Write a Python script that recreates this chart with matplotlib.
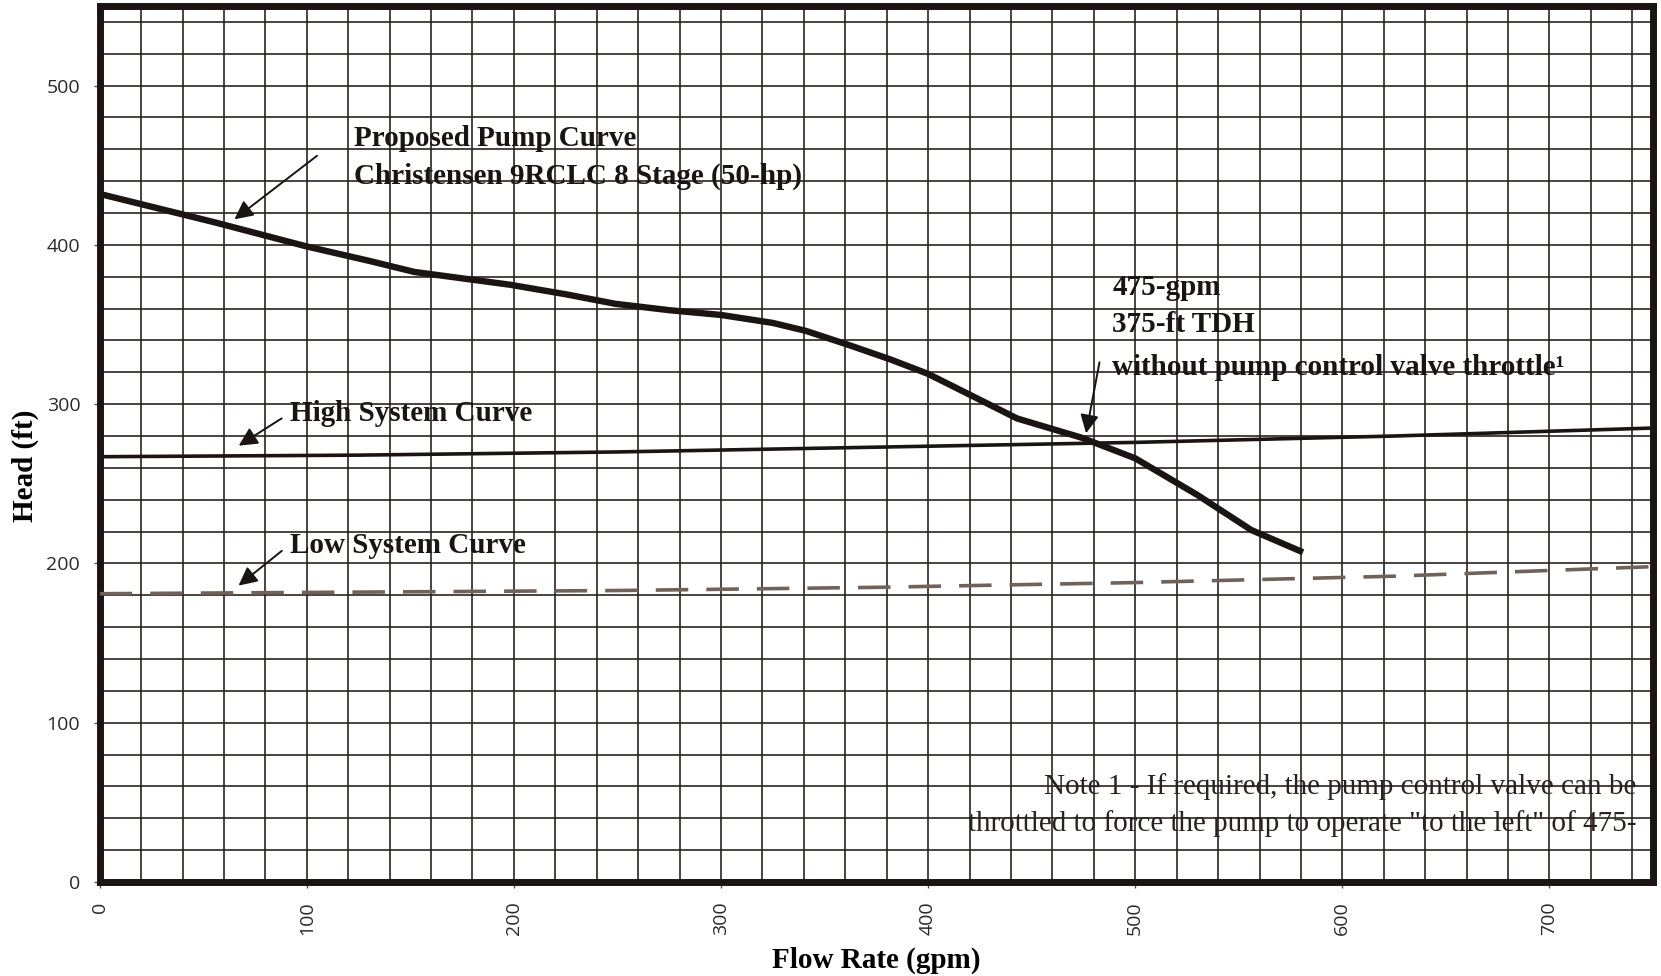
import numpy as np
import matplotlib.pyplot as plt
from matplotlib.ticker import MultipleLocator

# data
pump_flow = [0, 28, 56, 100, 130, 152, 175, 198, 225, 249, 275, 300, 325, 341, 362, 382, 400, 420, 443, 474, 500, 530, 556, 581]
pump_head = [432, 423, 414, 399, 390, 383, 379, 375, 369, 363, 359, 356, 351, 346, 337, 328, 319, 306, 291, 279, 266, 243, 221, 207]

high_flow = [0, 125, 250, 375, 500, 625, 750]
high_head = [267, 268, 270, 273, 276, 280, 285]

low_flow = [0, 125, 250, 375, 500, 625, 750]
low_head = [181, 182, 183, 185, 188, 192, 198]

x_ticks = [0, 100, 200, 300, 400, 500, 600, 700]
y_ticks = [0, 100, 200, 300, 400, 500]

serif = 'Liberation Serif'

fig = plt.figure(figsize=(16.61, 9.76), dpi=100)
ax = fig.add_axes([0.060, 0.0963, 0.9352, 0.8976])

ax.plot(pump_flow, pump_head, color='#1a1412', lw=4.6, solid_capstyle='butt', zorder=4)
ax.plot(high_flow, high_head, color='#1a1412', lw=2.6, zorder=4)
ax.plot(low_flow, low_head, color='#6e625a', lw=2.6, dashes=(9, 5), zorder=4)

ax.set_xlim(0, 750)
ax.set_ylim(0, 550)
ax.set_xticks(x_ticks)
ax.set_yticks(y_ticks)
ax.xaxis.set_minor_locator(MultipleLocator(20))
ax.yaxis.set_minor_locator(MultipleLocator(20))
ax.grid(which='both', color='#2a2220', lw=1.2)
ax.set_axisbelow(True)
ax.tick_params(which='minor', length=0)
ax.tick_params(which='major', length=4, width=1, color='#555555', pad=10, labelsize=14, labelcolor='#2a2a2a')
for lab in ax.get_xticklabels():
    lab.set_rotation(90)
    lab.set_family('Open Sans')
for lab in ax.get_yticklabels():
    lab.set_family('Open Sans')
for s in ax.spines.values():
    s.set_linewidth(5)
    s.set_color('#1a1412')

ax.set_xlabel('Flow Rate (gpm)', family=serif, fontweight='bold', fontsize=21, labelpad=8)
ax.set_ylabel('Head (ft)', family=serif, fontweight='bold', fontsize=21)
ax.yaxis.set_label_coords(-0.039, 0.475)

arrow = dict(arrowstyle='-|>', color='#1a1412', lw=1.4, mutation_scale=28)
bold = dict(family=serif, fontweight='bold', fontsize=21, color='#1a1412')

ax.annotate('', xy=(64, 415), xytext=(106, 457), arrowprops=arrow)
ax.text(123, 467, 'Proposed Pump Curve', va='center', **bold)
ax.text(123, 443, 'Christensen 9RCLC 8 Stage (50-hp)', va='center', **bold)

ax.annotate('', xy=(66, 273), xytext=(89, 292), arrowprops=arrow)
ax.text(92, 294, 'High System Curve', va='center', **bold)

ax.annotate('', xy=(66, 185), xytext=(89, 209), arrowprops=arrow)
ax.text(92, 211, 'Low System Curve', va='center', **bold)

ax.annotate('', xy=(476, 280), xytext=(483, 328), arrowprops=arrow)
ax.text(489, 373, '475-gpm', va='center', **bold)
ax.text(489, 350, '375-ft TDH', va='center', **bold)
ax.text(489, 323, 'without pump control valve throttle¹', va='center', **bold)

ax.text(742, 60, 'Note 1 - If required, the pump control valve can be', ha='right', va='center',
        family=serif, fontsize=21, color='#2a2220')
ax.text(742, 37, 'throttled to force the pump to operate "to the left" of 475-', ha='right', va='center',
        family=serif, fontsize=21, color='#2a2220')

fig.savefig('out.png', dpi=100, facecolor='white')
